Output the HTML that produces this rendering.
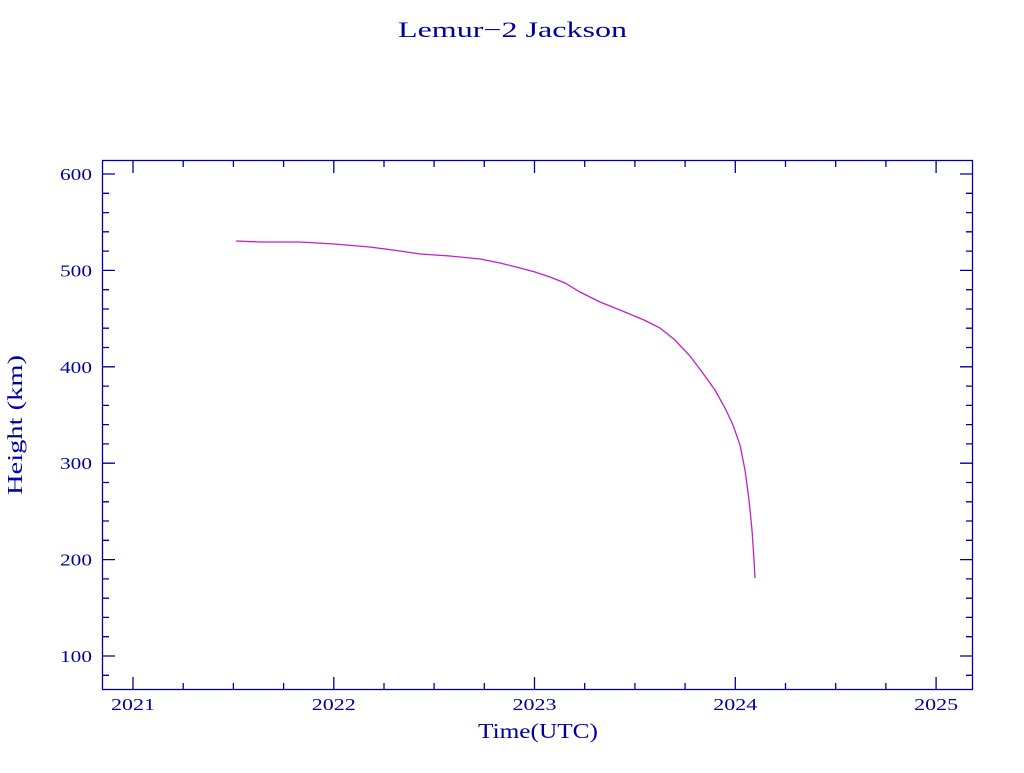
<!DOCTYPE html>
<html><head><style>
body{margin:0;background:#fff;}
svg text{font-family:"Liberation Serif",serif;fill:#0000a0;}
</style></head><body>
<svg width="1024" height="768" viewBox="0 0 1024 768" xmlns="http://www.w3.org/2000/svg">
<rect width="1024" height="768" fill="#fff"/>
<text x="398" y="37" font-size="22" textLength="229" lengthAdjust="spacingAndGlyphs">Lemur−2 Jackson</text>
<rect x="102.5" y="160.5" width="870" height="529" fill="none" stroke="#0000a0" stroke-width="1.3"/>
<path stroke="#0000a0" stroke-width="1.3" fill="none" d="
M103 675.3h6M103 656h12M103 636.7h6M103 617.4h6M103 598.2h6M103 578.9h6M103 559.6h12M103 540.3h6M103 521h6M103 501.8h6M103 482.5h6M103 463.2h12M103 443.9h6M103 424.6h6M103 405.4h6M103 386.1h6M103 366.8h12M103 347.5h6M103 328.2h6M103 309h6M103 289.7h6M103 270.4h12M103 251.1h6M103 231.8h6M103 212.6h6M103 193.3h6M103 174h12
M972 675.3h-6M972 656h-12M972 636.7h-6M972 617.4h-6M972 598.2h-6M972 578.9h-6M972 559.6h-12M972 540.3h-6M972 521h-6M972 501.8h-6M972 482.5h-6M972 463.2h-12M972 443.9h-6M972 424.6h-6M972 405.4h-6M972 386.1h-6M972 366.8h-12M972 347.5h-6M972 328.2h-6M972 309h-6M972 289.7h-6M972 270.4h-12M972 251.1h-6M972 231.8h-6M972 212.6h-6M972 193.3h-6M972 174h-12
M133 689v-12M183.2 689v-6M233.4 689v-6M283.6 689v-6M333.8 689v-12M384 689v-6M434.1 689v-6M484.3 689v-6M534.5 689v-12M584.7 689v-6M634.9 689v-6M685.1 689v-6M735.3 689v-12M785.5 689v-6M835.7 689v-6M885.9 689v-6M936.1 689v-12
M133 161v12M183.2 161v6M233.4 161v6M283.6 161v6M333.8 161v12M384 161v6M434.1 161v6M484.3 161v6M534.5 161v12M584.7 161v6M634.9 161v6M685.1 161v6M735.3 161v12M785.5 161v6M835.7 161v6M885.9 161v6M936.1 161v12"/>
<g font-size="17">
<text x="60" y="180" textLength="32" lengthAdjust="spacingAndGlyphs">600</text>
<text x="60" y="276.4" textLength="32" lengthAdjust="spacingAndGlyphs">500</text>
<text x="60" y="372.8" textLength="32" lengthAdjust="spacingAndGlyphs">400</text>
<text x="60" y="469.2" textLength="32" lengthAdjust="spacingAndGlyphs">300</text>
<text x="60" y="565.6" textLength="32" lengthAdjust="spacingAndGlyphs">200</text>
<text x="60" y="662" textLength="32" lengthAdjust="spacingAndGlyphs">100</text>
<text x="111" y="710" textLength="44" lengthAdjust="spacingAndGlyphs">2021</text>
<text x="311.8" y="710" textLength="44" lengthAdjust="spacingAndGlyphs">2022</text>
<text x="512.5" y="710" textLength="44" lengthAdjust="spacingAndGlyphs">2023</text>
<text x="713.3" y="710" textLength="44" lengthAdjust="spacingAndGlyphs">2024</text>
<text x="914.1" y="710" textLength="44" lengthAdjust="spacingAndGlyphs">2025</text>
</g>
<text x="478" y="738" font-size="21" textLength="120" lengthAdjust="spacingAndGlyphs">Time(UTC)</text>
<text transform="translate(22,495) rotate(-90)" font-size="21" textLength="140" lengthAdjust="spacingAndGlyphs">Height (km)</text>
<polyline fill="none" stroke="#c020c8" stroke-width="1.3" points="236,241 260,242 300,242 334,244 370,247 400,251 420,254 450,256 480,259 500,263 520,268 535,272 550,277 565,283 580,292 600,302 620,310 644,320 660,328 675,340 690,356 702,372 715,390 725,408 733,425 740,445 745,470 749,500 752,530 754,560 755,578"/>
</svg>
</body></html>
